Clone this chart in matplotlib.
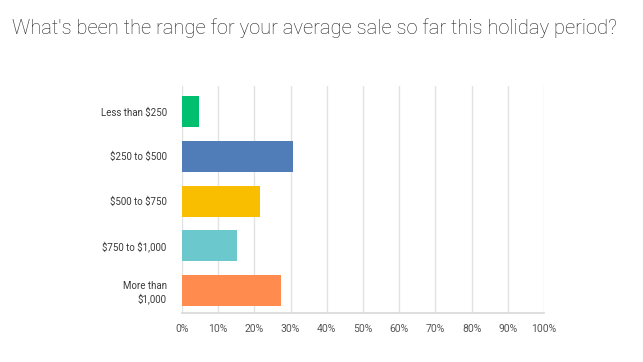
import matplotlib.pyplot as plt
import numpy as np

plt.rcParams['font.family'] = ['Roboto', 'DejaVu Sans']

# survey answers and share of responses (%)
categories = ['Less than $250', '$250 to $500', '$500 to $750', '$750 to $1,000', 'More than\n$1,000']
values = [4.7, 30.7, 21.5, 15.2, 27.3]
colors = ['#00bf6f', '#507cb8', '#f9be00', '#6bc8cd', '#ff8b4f']
ticks = list(range(0, 101, 10))

fig = plt.figure(figsize=(6.43, 3.62), dpi=100)
ax = fig.add_axes([182/643, 1 - 313/362, (544 - 182)/643, (313 - 86)/362])

y = np.arange(len(categories))
ax.barh(y, values, height=0.69, color=colors, zorder=3)
ax.set_ylim(4.5, -0.57)
ax.set_xlim(0, 100)

ax.set_xticks(ticks)
ax.set_xticklabels([f'{t}%' for t in ticks], fontsize=7.5, color='#555555')
ax.set_yticks(y)
ax.set_yticklabels([c.replace('$', r'\$') for c in categories], fontsize=7,
                   color='#3a3a3a', ha='right', multialignment='right')
ax.tick_params(axis='both', length=0)
ax.tick_params(axis='y', pad=11)
ax.tick_params(axis='x', pad=8)

ax.grid(axis='x', color='#e2e2e2', linewidth=1, zorder=0)
for s in ['top', 'right', 'left']:
    ax.spines[s].set_visible(False)
ax.spines['bottom'].set_color('#d8d8d8')
ax.spines['bottom'].set_linewidth(1.2)

fig.text(12/643, 1 - 28/362, "What's been the range for your average sale so far this holiday period?",
         fontsize=14.5, color='#222222', va='center', ha='left', fontweight='light')

fig.savefig('out.png', dpi=100)
